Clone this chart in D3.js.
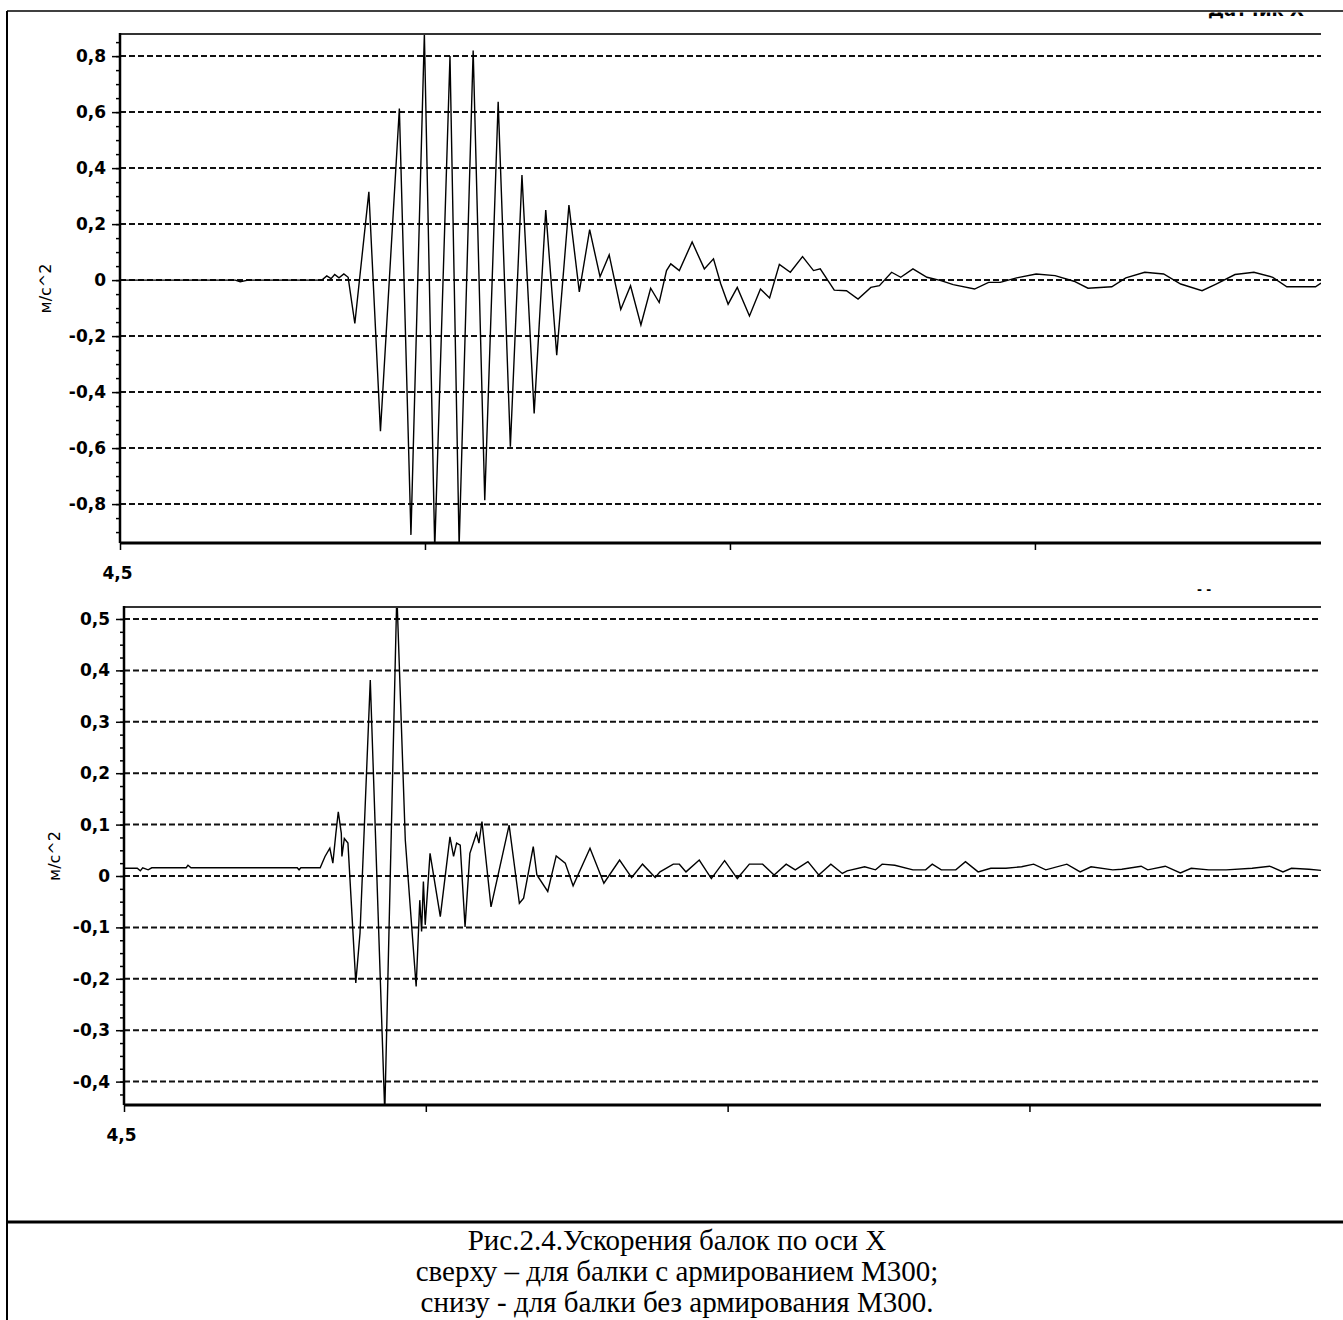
<!DOCTYPE html>
<html>
<head>
<meta charset="utf-8">
<script src="https://cdn.jsdelivr.net/npm/d3@7"></script>
<style>
    body { margin: 0; background: #fff; }
    svg { display: block; }
    .tick text { font-family: "DejaVu Sans", sans-serif; font-weight: bold; font-size: 17px; fill: #000; }
    .tick line { stroke: #000; stroke-width: 1.5; }
    .unit { font-family: "DejaVu Sans", sans-serif; font-size: 16px; fill: #000; }
    .caption { font-family: "Liberation Serif", "Times New Roman", serif; font-size: 29px; fill: #000; }
</style>
</head>
<body>
<svg id="chart" width="1343" height="1320"></svg>
<script>
// upper beam (with reinforcement), time in s, acceleration in m/s^2
const topTime = [4.500, 4.689, 4.697, 4.710, 4.831, 4.839, 4.846, 4.852, 4.859, 4.867, 4.874, 4.885, 4.908, 4.927, 4.958,
    4.977, 4.999, 5.016, 5.041, 5.056, 5.079, 5.098, 5.120, 5.140, 5.159, 5.179, 5.198, 5.216, 5.236, 5.253,
    5.270, 5.287, 5.302, 5.321, 5.337, 5.354, 5.370, 5.384, 5.396, 5.403, 5.417, 5.438, 5.458, 5.473, 5.485,
    5.497, 5.512, 5.532, 5.550, 5.565, 5.581, 5.599, 5.619, 5.637, 5.648, 5.671, 5.691, 5.710, 5.731, 5.745,
    5.765, 5.780, 5.800, 5.823, 5.846, 5.866, 5.901, 5.924, 5.943, 5.970, 6.002, 6.033, 6.064, 6.087, 6.126,
    6.149, 6.180, 6.211, 6.239, 6.274, 6.297, 6.328, 6.359, 6.390, 6.413, 6.460, 6.469];
const topAccel = [0, 0, -0.006, 0, 0, 0.015, 0.005, 0.02, 0.008, 0.022, 0.01, -0.155, 0.315, -0.54, 0.613,
    -0.91, 0.88, -0.96, 0.80, -0.95, 0.82, -0.786, 0.637, -0.595, 0.375, -0.476, 0.25, -0.268, 0.268, -0.042,
    0.18, 0.012, 0.09, -0.105, -0.02, -0.16, -0.029, -0.08, 0.034, 0.058, 0.034, 0.136, 0.04, 0.076, -0.014,
    -0.086, -0.026, -0.128, -0.032, -0.064, 0.056, 0.028, 0.084, 0.034, 0.04, -0.036, -0.038, -0.068, -0.026, -0.02,
    0.028, 0.01, 0.04, 0.01, -0.002, -0.016, -0.032, -0.008, -0.008, 0.008, 0.022, 0.016, -0.004, -0.029, -0.024,
    0.008, 0.028, 0.022, -0.014, -0.038, -0.014, 0.02, 0.028, 0.01, -0.024, -0.024, -0.011];

// lower beam (without reinforcement)
const bottomTime = [4.500, 4.522, 4.527, 4.531, 4.540, 4.546, 4.603, 4.606, 4.611, 4.787, 4.790, 4.793, 4.825, 4.833, 4.841,
    4.846, 4.851, 4.855, 4.860, 4.861, 4.865, 4.871, 4.884, 4.891, 4.908, 4.932, 4.952, 4.966, 4.984, 4.990,
    4.993, 4.996, 4.999, 5.007, 5.024, 5.040, 5.046, 5.051, 5.057, 5.065, 5.073, 5.084, 5.088, 5.093, 5.108,
    5.138, 5.155, 5.162, 5.178, 5.184, 5.202, 5.216, 5.231, 5.244, 5.272, 5.295, 5.321, 5.341, 5.359, 5.380,
    5.388, 5.410, 5.420, 5.431, 5.453, 5.473, 5.495, 5.516, 5.536, 5.558, 5.577, 5.597, 5.612, 5.633, 5.651,
    5.671, 5.690, 5.698, 5.727, 5.745, 5.756, 5.777, 5.807, 5.828, 5.839, 5.854, 5.878, 5.894, 5.915, 5.936,
    5.961, 5.987, 6.007, 6.027, 6.062, 6.084, 6.102, 6.138, 6.153, 6.185, 6.196, 6.225, 6.250, 6.268, 6.297,
    6.326, 6.369, 6.398, 6.420, 6.434, 6.463, 6.483];
const bottomAccel = [0.015, 0.015, 0.010, 0.016, 0.012, 0.016, 0.016, 0.021, 0.016, 0.016, 0.012, 0.016, 0.016, 0.038, 0.054,
    0.025, 0.083, 0.125, 0.083, 0.038, 0.073, 0.064, -0.208, -0.111, 0.381, -0.46, 0.55, 0.07, -0.215, -0.047,
    -0.108, -0.011, -0.095, 0.044, -0.079, 0.076, 0.038, 0.064, 0.06, -0.099, 0.044, 0.083, 0.064, 0.106, -0.06,
    0.099, -0.053, -0.043, 0.057, 0.002, -0.03, 0.039, 0.025, -0.019, 0.054, -0.014, 0.031, -0.003, 0.023, -0.003,
    0.008, 0.023, 0.023, 0.008, 0.031, -0.005, 0.03, -0.005, 0.023, 0.023, 0.002, 0.023, 0.012, 0.028, 0.002,
    0.023, 0.005, 0.01, 0.018, 0.012, 0.023, 0.021, 0.012, 0.012, 0.023, 0.012, 0.012, 0.028, 0.008, 0.015,
    0.015, 0.018, 0.023, 0.012, 0.023, 0.008, 0.018, 0.012, 0.013, 0.019, 0.012, 0.019, 0.006, 0.015, 0.012,
    0.012, 0.015, 0.019, 0.008, 0.015, 0.013, 0.011];

const topTicks = [-0.8, -0.6, -0.4, -0.2, 0, 0.2, 0.4, 0.6, 0.8];
const topTickLabels = ["-0,8", "-0,6", "-0,4", "-0,2", "0", "0,2", "0,4", "0,6", "0,8"];
const bottomTicks = [-0.4, -0.3, -0.2, -0.1, 0, 0.1, 0.2, 0.3, 0.4, 0.5];
const bottomTickLabels = ["-0,4", "-0,3", "-0,2", "-0,1", "0", "0,1", "0,2", "0,3", "0,4", "0,5"];
const timeTicks = [4.5, 5.0, 5.5, 6.0];
const timeTickLabels = ["4,5", "", "", ""];
const unitLabel = "м/с^2";
const cutTitle = "Датчик X";
const captionLines = [
    "Рис.2.4.Ускорения балок по оси X",
    "сверху – для балки с армированием М300;",
    "снизу - для балки без армирования М300."
];

const svg = d3.select("#chart");

// table frame round the picture and the caption
svg.append("line").attr("x1", 7).attr("x2", 7).attr("y1", 11).attr("y2", 1320)
    .attr("stroke", "#000").attr("stroke-width", 2);
svg.append("line").attr("x1", 7).attr("x2", 1343).attr("y1", 11).attr("y2", 11)
    .attr("stroke", "#000").attr("stroke-width", 1.5);
svg.append("line").attr("x1", 7).attr("x2", 1343).attr("y1", 1222).attr("y2", 1222)
    .attr("stroke", "#000").attr("stroke-width", 3);

// title of the screenshot, cut by the frame
svg.append("clipPath").attr("id", "cut-title")
    .append("rect").attr("x", 1200).attr("y", 12.5).attr("width", 143).attr("height", 6);
svg.append("text")
    .attr("x", 1208).attr("y", 16)
    .attr("clip-path", "url(#cut-title)")
    .attr("font-family", "DejaVu Sans").attr("font-weight", "bold").attr("font-size", 18)
    .text(cutTitle);
svg.append("text")
    .attr("x", 1197).attr("y", 594)
    .attr("font-family", "DejaVu Sans").attr("font-weight", "bold").attr("font-size", 12)
    .text("- -");

const panels = [
    { id: "top", time: topTime, accel: topAccel, ticks: topTicks, labels: topTickLabels, minorStep: 0.05,
      left: 120, right: 1321, top: 34, bottom: 543, yDomain: [-0.939, 0.879], xDomain: [4.5, 6.469],
      unitX: 45 },
    { id: "bottom", time: bottomTime, accel: bottomAccel, ticks: bottomTicks, labels: bottomTickLabels, minorStep: 0.025,
      left: 124, right: 1321, top: 607, bottom: 1105, yDomain: [-0.4455, 0.5233], xDomain: [4.5, 6.483],
      unitX: 54 }
];

panels.forEach(p => {
    const x = d3.scaleLinear().domain(p.xDomain).range([p.left, p.right]);
    const y = d3.scaleLinear().domain(p.yDomain).range([p.bottom, p.top]);
    const g = svg.append("g");

    g.append("clipPath").attr("id", "clip-" + p.id)
        .append("rect")
        .attr("x", p.left).attr("y", p.top)
        .attr("width", p.right - p.left).attr("height", p.bottom - p.top);

    // dashed grid
    g.selectAll(".grid")
        .data(p.ticks)
        .join("line")
        .attr("class", "grid")
        .attr("x1", p.left).attr("x2", p.right)
        .attr("y1", d => y(d)).attr("y2", d => y(d))
        .attr("stroke", "#111")
        .attr("stroke-width", 2)
        .attr("stroke-dasharray", "6,3");

    // minor ticks
    const minor = d3.range(-1, 1.0001, p.minorStep).filter(v => v > p.yDomain[0] && v < p.yDomain[1]);
    g.append("g")
        .attr("transform", `translate(${p.left},0)`)
        .call(d3.axisLeft(y).tickValues(minor).tickSize(4).tickFormat(""))
        .call(a => a.select(".domain").remove());

    g.append("g")
        .attr("transform", `translate(${p.left},0)`)
        .call(d3.axisLeft(y).tickValues(p.ticks).tickSize(8).tickPadding(6)
            .tickFormat((d, i) => p.labels[i]))
        .call(a => a.select(".domain").remove());

    g.append("g")
        .attr("transform", `translate(0,${p.bottom})`)
        .call(d3.axisBottom(x).tickValues(timeTicks).tickSize(7).tickPadding(17)
            .tickFormat((d, i) => timeTickLabels[i]))
        .call(a => a.select(".domain").remove())
        .call(a => a.selectAll("text").attr("dx", -3));

    const line = d3.line()
        .x((d, i) => x(p.time[i]))
        .y(d => y(d));

    g.append("path")
        .datum(p.accel)
        .attr("clip-path", `url(#clip-${p.id})`)
        .attr("fill", "none")
        .attr("stroke", "#000")
        .attr("stroke-width", 1.4)
        .attr("stroke-linejoin", "miter")
        .attr("d", line);

    // frame of plot area
    g.append("line").attr("x1", p.left).attr("x2", p.right).attr("y1", p.top).attr("y2", p.top)
        .attr("stroke", "#333").attr("stroke-width", 2);
    g.append("line").attr("x1", p.left).attr("x2", p.left).attr("y1", p.top - 1).attr("y2", p.bottom)
        .attr("stroke", "#000").attr("stroke-width", 2.5);
    g.append("line").attr("x1", p.left).attr("x2", p.right).attr("y1", p.bottom).attr("y2", p.bottom)
        .attr("stroke", "#000").attr("stroke-width", 3);

    g.append("text")
        .attr("class", "unit")
        .attr("transform", `translate(${p.unitX},${(p.top + p.bottom) / 2}) rotate(-90)`)
        .attr("text-anchor", "middle")
        .attr("dy", "0.35em")
        .text(unitLabel);
});

svg.selectAll(".caption")
    .data(captionLines)
    .join("text")
    .attr("class", "caption")
    .attr("x", 677)
    .attr("y", (d, i) => 1250 + i * 31)
    .attr("text-anchor", "middle")
    .text(d => d);
</script>
</body>
</html>
